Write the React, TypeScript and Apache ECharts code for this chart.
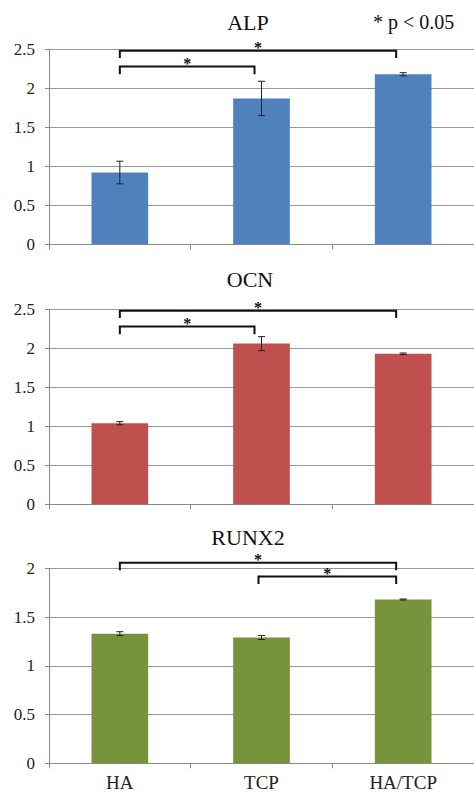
import React, { useEffect, useRef } from "react";
import * as echarts from "echarts";

const categories = ["HA", "TCP", "HA/TCP"];
const panelTitles = ["ALP", "OCN", "RUNX2"];
const alpValues = [0.92, 1.87, 2.18];
const alpErr = [0.145, 0.22, 0.02];
const ocnValues = [1.04, 2.06, 1.93];
const ocnErr = [0.02, 0.09, 0.01];
const runx2Values = [1.33, 1.29, 1.68];
const runx2Err = [0.02, 0.02, 0.005];
const yMaxes = [2.5, 2.5, 2];
// brackets: [fromCat, toCat, lineLevel, tickBottomLevel]
const alpBrackets = [
  [0, 2, 2.48, 2.39],
  [0, 1, 2.28, 2.18],
];
const ocnBrackets = [
  [0, 2, 2.48, 2.39],
  [0, 1, 2.28, 2.18],
];
const runx2Brackets = [
  [0, 2, 2.057, 1.98],
  [1, 2, 1.915, 1.84],
];
const noteText = "* p < 0.05";

const colors = ["#4f81bd", "#c0504d", "#77933c"];
const FONT = "Liberation Serif";

export default function App() {
  const ref = useRef<HTMLDivElement>(null);
  useEffect(() => {
    if (!ref.current) return;
    const chart = echarts.init(ref.current, null, { renderer: "svg" });
    const values = [alpValues, ocnValues, runx2Values];
    const errs = [alpErr, ocnErr, runx2Err];
    const brackets = [alpBrackets, ocnBrackets, runx2Brackets];
    const tops = [49.3, 309.3, 568.3];
    const titleY = [22, 279, 537.5];
    const titleX = [248, 250, 248];

    const grids = tops.map((t) => ({ left: 49, top: t, width: 426, height: 195 }));
    const xAxes = tops.map((_, i) => ({
      type: "category",
      gridIndex: i,
      data: categories,
      axisLine: { lineStyle: { color: "#888", width: 1 } },
      axisTick: { show: true, length: 5, lineStyle: { color: "#888" } },
      axisLabel: {
        show: i === 2,
        fontFamily: FONT,
        fontSize: 19,
        color: "#222",
        margin: 10,
      },
    }));
    const yAxes = tops.map((_, i) => ({
      type: "value",
      gridIndex: i,
      min: 0,
      max: yMaxes[i],
      interval: 0.5,
      axisLine: { show: true, lineStyle: { color: "#888" } },
      axisTick: { show: true, length: 4, lineStyle: { color: "#888" } },
      splitLine: { lineStyle: { color: "#999", width: 1 } },
      axisLabel: { fontFamily: FONT, fontSize: 17, color: "#222", margin: 14 },
    }));

    const series: any[] = [];
    values.forEach((vals, i) => {
      series.push({
        type: "bar",
        xAxisIndex: i,
        yAxisIndex: i,
        data: vals,
        barWidth: "40%",
        itemStyle: { color: colors[i] },
      });
      series.push({
        type: "custom",
        xAxisIndex: i,
        yAxisIndex: i,
        itemStyle: { color: "#222" },
        data: vals.map((v, k) => [k, v - errs[i][k], v + errs[i][k]]),
        renderItem: (params: any, api: any) => {
          const lo = api.coord([api.value(0), api.value(1)]);
          const hi = api.coord([api.value(0), api.value(2)]);
          const w = 3.5;
          const st = { stroke: "#222", lineWidth: 1 };
          return {
            type: "group",
            children: [
              { type: "line", shape: { x1: lo[0], y1: lo[1], x2: hi[0], y2: hi[1] }, style: st },
              { type: "line", shape: { x1: lo[0] - w, y1: lo[1], x2: lo[0] + w, y2: lo[1] }, style: st },
              { type: "line", shape: { x1: hi[0] - w, y1: hi[1], x2: hi[0] + w, y2: hi[1] }, style: st },
            ],
          };
        },
        z: 5,
      });
      series.push({
        type: "custom",
        xAxisIndex: i,
        yAxisIndex: i,
        itemStyle: { color: "#111" },
        data: brackets[i],
        clip: false,
        renderItem: (params: any, api: any) => {
          const a = api.value(0);
          const b = api.value(1);
          const p1 = api.coord([a, api.value(2)]);
          const p2 = api.coord([b, api.value(2)]);
          const bot = api.coord([a, api.value(3)])[1];
          const x1 = p1[0] - (a > 0 ? 3 : 0);
          const x2 = p2[0] - (b > 0 ? 7 : 0);
          const y = p1[1];
          return {
            type: "group",
            children: [
              {
                type: "polyline",
                shape: { points: [[x1, bot], [x1, y], [x2, y], [x2, bot]] },
                style: { stroke: "#111", lineWidth: 2, fill: "none" },
              },
              {
                type: "text",
                style: {
                  text: "*",
                  x: (x1 + x2) / 2,
                  y: y - 3,
                  align: "center",
                  verticalAlign: "middle",
                  fontFamily: FONT,
                  fontSize: 16,
                  fontWeight: "bold",
                  fill: "#111",
                },
              },
            ],
          };
        },
        z: 6,
      });
    });

    const graphics: any[] = panelTitles.map((t, i) => ({
      type: "text",
      x: titleX[i],
      y: titleY[i],
      style: {
        text: t,
        align: "center",
        verticalAlign: "middle",
        fontFamily: FONT,
        fontSize: 22,
        fill: "#111",
      },
    }));
    graphics.push({
      type: "text",
      x: 373,
      y: 22,
      style: {
        text: noteText,
        align: "left",
        verticalAlign: "middle",
        fontFamily: FONT,
        fontSize: 20,
        fill: "#111",
      },
    });

    chart.setOption({
      animation: false,
      backgroundColor: "#fff",
      textStyle: { fontFamily: FONT },
      grid: grids,
      xAxis: xAxes,
      yAxis: yAxes,
      series,
      graphic: graphics,
    });
    return () => chart.dispose();
  }, []);
  return (
    <div
      ref={ref}
      style={{ position: "fixed", left: 0, top: 0, width: 474, height: 796 }}
    />
  );
}
